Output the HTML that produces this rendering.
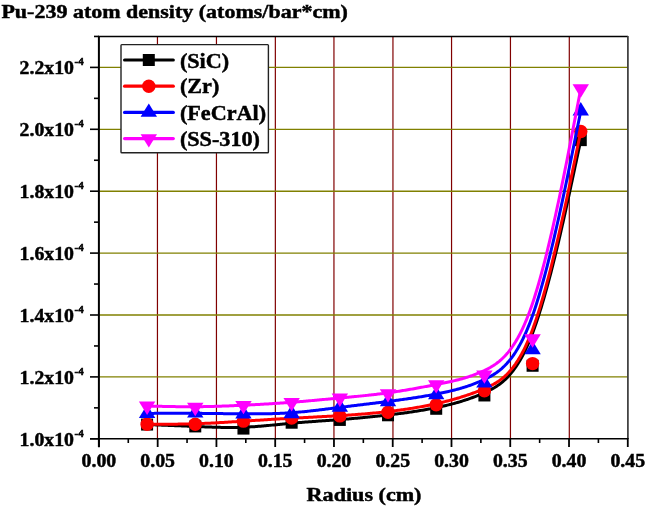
<!DOCTYPE html>
<html><head><meta charset="utf-8"><title>Pu-239 atom density</title>
<style>html,body{margin:0;padding:0;background:#fff;}body{width:646px;height:508px;overflow:hidden;}svg{display:block;}</style>
</head><body>
<svg width="646" height="508" viewBox="0 0 646 508">
<line x1="157.45" y1="36.5" x2="157.45" y2="438" stroke="#800000" stroke-width="1.2"/>
<line x1="216.45" y1="36.5" x2="216.45" y2="438" stroke="#800000" stroke-width="1.2"/>
<line x1="275.35" y1="36.5" x2="275.35" y2="438" stroke="#800000" stroke-width="1.2"/>
<line x1="333.95" y1="36.5" x2="333.95" y2="438" stroke="#800000" stroke-width="1.2"/>
<line x1="392.95" y1="36.5" x2="392.95" y2="438" stroke="#800000" stroke-width="1.2"/>
<line x1="451.55" y1="36.5" x2="451.55" y2="438" stroke="#800000" stroke-width="1.2"/>
<line x1="510.45" y1="36.5" x2="510.45" y2="438" stroke="#800000" stroke-width="1.2"/>
<line x1="569.30" y1="36.5" x2="569.30" y2="438" stroke="#800000" stroke-width="1.2"/>
<line x1="99" y1="376.90" x2="627.5" y2="376.90" stroke="#808000" stroke-width="1.35"/>
<line x1="99" y1="315.00" x2="627.5" y2="315.00" stroke="#808000" stroke-width="1.35"/>
<line x1="99" y1="253.10" x2="627.5" y2="253.10" stroke="#808000" stroke-width="1.35"/>
<line x1="99" y1="191.20" x2="627.5" y2="191.20" stroke="#808000" stroke-width="1.35"/>
<line x1="99" y1="129.30" x2="627.5" y2="129.30" stroke="#808000" stroke-width="1.35"/>
<line x1="99" y1="67.40" x2="627.5" y2="67.40" stroke="#808000" stroke-width="1.35"/>
<line x1="98" y1="36.4" x2="628" y2="36.4" stroke="#000" stroke-width="1.5"/>
<line x1="627.9" y1="36" x2="627.9" y2="439" stroke="#3a3a3a" stroke-width="1.7"/>
<line x1="98.9" y1="36" x2="98.9" y2="447.3" stroke="#000" stroke-width="2"/>
<line x1="90" y1="438.8" x2="628" y2="438.8" stroke="#000" stroke-width="1.6"/>
<line x1="98.90" y1="438" x2="98.90" y2="447" stroke="#000" stroke-width="1.8"/>
<line x1="157.67" y1="438" x2="157.67" y2="447" stroke="#000" stroke-width="1.8"/>
<line x1="216.43" y1="438" x2="216.43" y2="447" stroke="#000" stroke-width="1.8"/>
<line x1="275.20" y1="438" x2="275.20" y2="447" stroke="#000" stroke-width="1.8"/>
<line x1="333.96" y1="438" x2="333.96" y2="447" stroke="#000" stroke-width="1.8"/>
<line x1="392.73" y1="438" x2="392.73" y2="447" stroke="#000" stroke-width="1.8"/>
<line x1="451.49" y1="438" x2="451.49" y2="447" stroke="#000" stroke-width="1.8"/>
<line x1="510.25" y1="438" x2="510.25" y2="447" stroke="#000" stroke-width="1.8"/>
<line x1="569.02" y1="438" x2="569.02" y2="447" stroke="#000" stroke-width="1.8"/>
<line x1="627.78" y1="438" x2="627.78" y2="447" stroke="#000" stroke-width="1.8"/>
<line x1="128.28" y1="438" x2="128.28" y2="443" stroke="#000" stroke-width="1.6"/>
<line x1="187.05" y1="438" x2="187.05" y2="443" stroke="#000" stroke-width="1.6"/>
<line x1="245.81" y1="438" x2="245.81" y2="443" stroke="#000" stroke-width="1.6"/>
<line x1="304.58" y1="438" x2="304.58" y2="443" stroke="#000" stroke-width="1.6"/>
<line x1="363.34" y1="438" x2="363.34" y2="443" stroke="#000" stroke-width="1.6"/>
<line x1="422.11" y1="438" x2="422.11" y2="443" stroke="#000" stroke-width="1.6"/>
<line x1="480.87" y1="438" x2="480.87" y2="443" stroke="#000" stroke-width="1.6"/>
<line x1="539.64" y1="438" x2="539.64" y2="443" stroke="#000" stroke-width="1.6"/>
<line x1="598.40" y1="438" x2="598.40" y2="443" stroke="#000" stroke-width="1.6"/>
<line x1="90" y1="438.80" x2="99" y2="438.80" stroke="#000" stroke-width="1.6"/>
<line x1="90" y1="376.90" x2="99" y2="376.90" stroke="#000" stroke-width="1.6"/>
<line x1="90" y1="315.00" x2="99" y2="315.00" stroke="#000" stroke-width="1.6"/>
<line x1="90" y1="253.10" x2="99" y2="253.10" stroke="#000" stroke-width="1.6"/>
<line x1="90" y1="191.20" x2="99" y2="191.20" stroke="#000" stroke-width="1.6"/>
<line x1="90" y1="129.30" x2="99" y2="129.30" stroke="#000" stroke-width="1.6"/>
<line x1="90" y1="67.40" x2="99" y2="67.40" stroke="#000" stroke-width="1.6"/>
<line x1="94" y1="407.85" x2="99" y2="407.85" stroke="#000" stroke-width="1.6"/>
<line x1="94" y1="345.95" x2="99" y2="345.95" stroke="#000" stroke-width="1.6"/>
<line x1="94" y1="284.05" x2="99" y2="284.05" stroke="#000" stroke-width="1.6"/>
<line x1="94" y1="222.15" x2="99" y2="222.15" stroke="#000" stroke-width="1.6"/>
<line x1="94" y1="160.25" x2="99" y2="160.25" stroke="#000" stroke-width="1.6"/>
<line x1="94" y1="98.35" x2="99" y2="98.35" stroke="#000" stroke-width="1.6"/>
<line x1="94" y1="36.45" x2="99" y2="36.45" stroke="#000" stroke-width="1.6"/>
<text transform="translate(98.90,467) scale(1.1,1)" text-anchor="middle" font-size="18" font-family="Liberation Serif, Times New Roman, serif" font-weight="bold" stroke="#000" stroke-width="0.45">0.00</text>
<text transform="translate(157.67,467) scale(1.1,1)" text-anchor="middle" font-size="18" font-family="Liberation Serif, Times New Roman, serif" font-weight="bold" stroke="#000" stroke-width="0.45">0.05</text>
<text transform="translate(216.43,467) scale(1.1,1)" text-anchor="middle" font-size="18" font-family="Liberation Serif, Times New Roman, serif" font-weight="bold" stroke="#000" stroke-width="0.45">0.10</text>
<text transform="translate(275.20,467) scale(1.1,1)" text-anchor="middle" font-size="18" font-family="Liberation Serif, Times New Roman, serif" font-weight="bold" stroke="#000" stroke-width="0.45">0.15</text>
<text transform="translate(333.96,467) scale(1.1,1)" text-anchor="middle" font-size="18" font-family="Liberation Serif, Times New Roman, serif" font-weight="bold" stroke="#000" stroke-width="0.45">0.20</text>
<text transform="translate(392.73,467) scale(1.1,1)" text-anchor="middle" font-size="18" font-family="Liberation Serif, Times New Roman, serif" font-weight="bold" stroke="#000" stroke-width="0.45">0.25</text>
<text transform="translate(451.49,467) scale(1.1,1)" text-anchor="middle" font-size="18" font-family="Liberation Serif, Times New Roman, serif" font-weight="bold" stroke="#000" stroke-width="0.45">0.30</text>
<text transform="translate(510.25,467) scale(1.1,1)" text-anchor="middle" font-size="18" font-family="Liberation Serif, Times New Roman, serif" font-weight="bold" stroke="#000" stroke-width="0.45">0.35</text>
<text transform="translate(569.02,467) scale(1.1,1)" text-anchor="middle" font-size="18" font-family="Liberation Serif, Times New Roman, serif" font-weight="bold" stroke="#000" stroke-width="0.45">0.40</text>
<text transform="translate(627.78,467) scale(1.1,1)" text-anchor="middle" font-size="18" font-family="Liberation Serif, Times New Roman, serif" font-weight="bold" stroke="#000" stroke-width="0.45">0.45</text>
<text transform="translate(74,445.80) scale(1.1,1)" text-anchor="end" font-size="18" font-family="Liberation Serif, Times New Roman, serif" font-weight="bold" stroke="#000" stroke-width="0.45">1.0x10</text>
<text transform="translate(74.5,436.80) scale(1.1,1)" font-size="10" font-family="Liberation Serif, Times New Roman, serif" font-weight="bold" stroke="#000" stroke-width="0.45">-4</text>
<text transform="translate(74,383.90) scale(1.1,1)" text-anchor="end" font-size="18" font-family="Liberation Serif, Times New Roman, serif" font-weight="bold" stroke="#000" stroke-width="0.45">1.2x10</text>
<text transform="translate(74.5,374.90) scale(1.1,1)" font-size="10" font-family="Liberation Serif, Times New Roman, serif" font-weight="bold" stroke="#000" stroke-width="0.45">-4</text>
<text transform="translate(74,322.00) scale(1.1,1)" text-anchor="end" font-size="18" font-family="Liberation Serif, Times New Roman, serif" font-weight="bold" stroke="#000" stroke-width="0.45">1.4x10</text>
<text transform="translate(74.5,313.00) scale(1.1,1)" font-size="10" font-family="Liberation Serif, Times New Roman, serif" font-weight="bold" stroke="#000" stroke-width="0.45">-4</text>
<text transform="translate(74,260.10) scale(1.1,1)" text-anchor="end" font-size="18" font-family="Liberation Serif, Times New Roman, serif" font-weight="bold" stroke="#000" stroke-width="0.45">1.6x10</text>
<text transform="translate(74.5,251.10) scale(1.1,1)" font-size="10" font-family="Liberation Serif, Times New Roman, serif" font-weight="bold" stroke="#000" stroke-width="0.45">-4</text>
<text transform="translate(74,198.20) scale(1.1,1)" text-anchor="end" font-size="18" font-family="Liberation Serif, Times New Roman, serif" font-weight="bold" stroke="#000" stroke-width="0.45">1.8x10</text>
<text transform="translate(74.5,189.20) scale(1.1,1)" font-size="10" font-family="Liberation Serif, Times New Roman, serif" font-weight="bold" stroke="#000" stroke-width="0.45">-4</text>
<text transform="translate(74,136.30) scale(1.1,1)" text-anchor="end" font-size="18" font-family="Liberation Serif, Times New Roman, serif" font-weight="bold" stroke="#000" stroke-width="0.45">2.0x10</text>
<text transform="translate(74.5,127.30) scale(1.1,1)" font-size="10" font-family="Liberation Serif, Times New Roman, serif" font-weight="bold" stroke="#000" stroke-width="0.45">-4</text>
<text transform="translate(74,74.40) scale(1.1,1)" text-anchor="end" font-size="18" font-family="Liberation Serif, Times New Roman, serif" font-weight="bold" stroke="#000" stroke-width="0.45">2.2x10</text>
<text transform="translate(74.5,65.40) scale(1.1,1)" font-size="10" font-family="Liberation Serif, Times New Roman, serif" font-weight="bold" stroke="#000" stroke-width="0.45">-4</text>
<path d="M147.09,424.56 L147.09,424.56 L147.09,424.56 L147.09,424.56 L147.10,424.56 L147.10,424.56 L147.12,424.56 L147.13,424.56 L147.16,424.57 L147.19,424.57 L147.22,424.57 L147.27,424.57 L147.32,424.57 L147.38,424.57 L147.46,424.58 L147.54,424.58 L147.64,424.58 L147.75,424.59 L147.88,424.59 L148.02,424.60 L148.17,424.60 L148.34,424.61 L148.53,424.62 L148.73,424.63 L148.96,424.64 L149.20,424.64 L149.47,424.65 L149.75,424.67 L150.06,424.68 L150.39,424.69 L150.74,424.70 L151.12,424.72 L151.52,424.73 L151.95,424.75 L152.41,424.77 L152.89,424.79 L153.40,424.81 L153.95,424.83 L154.52,424.85 L155.12,424.87 L155.75,424.90 L156.42,424.92 L157.11,424.95 L157.83,424.98 L158.59,425.01 L159.37,425.04 L160.17,425.07 L161.01,425.10 L161.86,425.13 L162.75,425.17 L163.65,425.20 L164.58,425.24 L165.53,425.28 L166.50,425.31 L167.49,425.35 L168.50,425.39 L169.53,425.43 L170.58,425.47 L171.65,425.52 L172.73,425.56 L173.82,425.60 L174.94,425.65 L176.06,425.69 L177.20,425.74 L178.35,425.78 L179.51,425.83 L180.68,425.87 L181.86,425.92 L183.05,425.97 L184.25,426.02 L185.46,426.07 L186.67,426.12 L187.89,426.17 L189.11,426.22 L190.34,426.27 L191.57,426.32 L192.80,426.37 L194.04,426.42 L195.27,426.47 L196.51,426.52 L197.75,426.57 L198.98,426.63 L200.22,426.68 L201.45,426.73 L202.69,426.78 L203.92,426.83 L205.16,426.88 L206.39,426.93 L207.63,426.97 L208.87,427.02 L210.10,427.06 L211.34,427.11 L212.57,427.15 L213.81,427.19 L215.04,427.23 L216.28,427.26 L217.51,427.30 L218.75,427.33 L219.99,427.36 L221.22,427.38 L222.46,427.41 L223.69,427.43 L224.93,427.44 L226.16,427.46 L227.40,427.47 L228.64,427.48 L229.87,427.48 L231.11,427.48 L232.34,427.48 L233.58,427.47 L234.81,427.46 L236.05,427.44 L237.28,427.42 L238.52,427.39 L239.76,427.37 L240.99,427.33 L242.23,427.29 L243.46,427.25 L244.70,427.20 L245.93,427.14 L247.17,427.08 L248.40,427.01 L249.64,426.95 L250.88,426.87 L252.11,426.79 L253.35,426.71 L254.58,426.63 L255.82,426.54 L257.05,426.44 L258.29,426.35 L259.52,426.25 L260.76,426.15 L262.00,426.04 L263.23,425.93 L264.47,425.83 L265.70,425.71 L266.94,425.60 L268.17,425.49 L269.41,425.37 L270.64,425.25 L271.88,425.13 L273.12,425.01 L274.35,424.89 L275.59,424.77 L276.82,424.65 L278.06,424.53 L279.29,424.40 L280.53,424.28 L281.76,424.16 L283.00,424.04 L284.24,423.92 L285.47,423.80 L286.71,423.68 L287.94,423.56 L289.18,423.45 L290.41,423.33 L291.65,423.22 L292.88,423.11 L294.12,423.00 L295.36,422.90 L296.59,422.79 L297.83,422.69 L299.06,422.59 L300.30,422.49 L301.53,422.39 L302.77,422.29 L304.00,422.20 L305.24,422.10 L306.48,422.01 L307.71,421.92 L308.95,421.83 L310.18,421.74 L311.42,421.65 L312.65,421.56 L313.89,421.47 L315.13,421.38 L316.36,421.30 L317.60,421.21 L318.83,421.12 L320.07,421.04 L321.30,420.95 L322.54,420.86 L323.77,420.78 L325.01,420.69 L326.25,420.60 L327.48,420.52 L328.72,420.43 L329.95,420.34 L331.19,420.25 L332.42,420.16 L333.66,420.07 L334.89,419.98 L336.13,419.89 L337.37,419.80 L338.60,419.71 L339.84,419.61 L341.07,419.52 L342.31,419.42 L343.54,419.32 L344.78,419.22 L346.01,419.12 L347.25,419.02 L348.49,418.91 L349.72,418.81 L350.96,418.70 L352.19,418.60 L353.43,418.49 L354.66,418.38 L355.90,418.27 L357.13,418.16 L358.37,418.05 L359.61,417.93 L360.84,417.82 L362.08,417.70 L363.31,417.58 L364.55,417.46 L365.78,417.34 L367.02,417.22 L368.25,417.10 L369.49,416.97 L370.73,416.85 L371.96,416.72 L373.20,416.59 L374.43,416.47 L375.67,416.34 L376.90,416.20 L378.14,416.07 L379.37,415.94 L380.61,415.80 L381.85,415.67 L383.08,415.53 L384.32,415.39 L385.55,415.25 L386.79,415.11 L388.02,414.97 L389.26,414.83 L390.49,414.68 L391.73,414.53 L392.97,414.39 L394.20,414.24 L395.44,414.09 L396.67,413.93 L397.91,413.78 L399.14,413.62 L400.38,413.47 L401.62,413.30 L402.85,413.14 L404.09,412.98 L405.32,412.81 L406.56,412.64 L407.79,412.47 L409.03,412.30 L410.26,412.12 L411.50,411.94 L412.74,411.76 L413.97,411.57 L415.21,411.38 L416.44,411.19 L417.68,411.00 L418.91,410.80 L420.15,410.60 L421.38,410.39 L422.62,410.18 L423.86,409.97 L425.09,409.76 L426.33,409.54 L427.56,409.32 L428.80,409.09 L430.03,408.86 L431.27,408.62 L432.50,408.39 L433.74,408.14 L434.98,407.90 L436.21,407.64 L437.45,407.39 L438.68,407.13 L439.92,406.86 L441.15,406.59 L442.39,406.31 L443.62,406.03 L444.86,405.75 L446.10,405.46 L447.33,405.16 L448.57,404.85 L449.80,404.54 L451.04,404.23 L452.27,403.90 L453.51,403.58 L454.74,403.24 L455.98,402.90 L457.22,402.55 L458.45,402.19 L459.69,401.83 L460.92,401.45 L462.16,401.07 L463.39,400.69 L464.63,400.29 L465.86,399.89 L467.10,399.47 L468.34,399.05 L469.57,398.62 L470.81,398.19 L472.04,397.74 L473.28,397.28 L474.51,396.82 L475.75,396.34 L476.98,395.86 L478.22,395.36 L479.46,394.86 L480.69,394.34 L481.93,393.82 L483.16,393.28 L484.40,392.74 L485.63,392.18 L486.87,391.61 L488.11,391.02 L489.34,390.41 L490.58,389.78 L491.81,389.12 L493.05,388.44 L494.28,387.72 L495.52,386.97 L496.75,386.18 L497.99,385.35 L499.23,384.47 L500.46,383.55 L501.70,382.57 L502.93,381.55 L504.17,380.47 L505.40,379.32 L506.64,378.12 L507.87,376.85 L509.11,375.51 L510.35,374.10 L511.58,372.62 L512.82,371.06 L514.05,369.42 L515.29,367.70 L516.52,365.89 L517.76,363.99 L518.99,361.99 L520.23,359.91 L521.47,357.72 L522.70,355.43 L523.94,353.04 L525.17,350.54 L526.41,347.93 L527.64,345.20 L528.88,342.36 L530.11,339.40 L531.35,336.32 L532.59,333.11 L533.82,329.77 L535.06,326.31 L536.29,322.74 L537.52,319.06 L538.75,315.28 L539.97,311.40 L541.19,307.44 L542.40,303.40 L543.61,299.29 L544.81,295.11 L546.00,290.88 L547.18,286.60 L548.35,282.27 L549.51,277.90 L550.66,273.51 L551.80,269.09 L552.93,264.66 L554.04,260.22 L555.13,255.78 L556.21,251.35 L557.28,246.93 L558.33,242.53 L559.36,238.16 L560.37,233.82 L561.36,229.52 L562.33,225.27 L563.28,221.08 L564.21,216.95 L565.12,212.90 L566.00,208.91 L566.86,205.02 L567.69,201.21 L568.49,197.51 L569.27,193.91 L570.03,190.42 L570.75,187.05 L571.44,183.81 L572.11,180.70 L572.74,177.74 L573.34,174.92 L573.92,172.24 L574.46,169.71 L574.97,167.31 L575.45,165.05 L575.91,162.91 L576.34,160.91 L576.74,159.02 L577.12,157.25 L577.47,155.59 L577.80,154.05 L578.11,152.61 L578.39,151.27 L578.66,150.04 L578.90,148.90 L579.13,147.85 L579.33,146.88 L579.52,146.00 L579.69,145.20 L579.84,144.48 L579.98,143.83 L580.11,143.25 L580.22,142.73 L580.32,142.27 L580.40,141.87 L580.48,141.53 L580.54,141.23 L580.59,140.98 L580.64,140.77 L580.67,140.59 L580.70,140.46 L580.73,140.35 L580.74,140.27 L580.76,140.21 L580.76,140.17 L580.77,140.15 L580.77,140.14 L580.77,140.13 L580.77,140.13" fill="none" stroke="#000" stroke-width="3" stroke-linejoin="round"/>
<rect x="141.09" y="418.56" width="12" height="12" fill="#000"/>
<rect x="189.27" y="420.42" width="12" height="12" fill="#000"/>
<rect x="237.46" y="422.59" width="12" height="12" fill="#000"/>
<rect x="285.65" y="416.71" width="12" height="12" fill="#000"/>
<rect x="333.84" y="413.92" width="12" height="12" fill="#000"/>
<rect x="382.02" y="409.28" width="12" height="12" fill="#000"/>
<rect x="430.21" y="402.78" width="12" height="12" fill="#000"/>
<rect x="478.40" y="389.47" width="12" height="12" fill="#000"/>
<rect x="526.59" y="359.76" width="12" height="12" fill="#000"/>
<rect x="574.77" y="134.13" width="12" height="12" fill="#000"/>
<path d="M147.09,424.25 L147.09,424.25 L147.09,424.25 L147.09,424.25 L147.10,424.25 L147.10,424.25 L147.12,424.25 L147.13,424.25 L147.16,424.25 L147.19,424.25 L147.22,424.25 L147.27,424.25 L147.32,424.25 L147.38,424.25 L147.46,424.25 L147.54,424.25 L147.64,424.25 L147.75,424.25 L147.88,424.25 L148.02,424.25 L148.17,424.25 L148.34,424.25 L148.53,424.25 L148.73,424.25 L148.96,424.25 L149.20,424.25 L149.47,424.25 L149.75,424.25 L150.06,424.25 L150.39,424.25 L150.74,424.25 L151.12,424.25 L151.52,424.25 L151.95,424.25 L152.41,424.25 L152.89,424.25 L153.40,424.25 L153.95,424.25 L154.52,424.25 L155.12,424.25 L155.75,424.25 L156.42,424.25 L157.11,424.25 L157.83,424.25 L158.59,424.25 L159.37,424.25 L160.17,424.25 L161.01,424.25 L161.86,424.25 L162.75,424.24 L163.65,424.24 L164.58,424.24 L165.53,424.23 L166.50,424.23 L167.49,424.22 L168.50,424.22 L169.53,424.21 L170.58,424.20 L171.65,424.19 L172.73,424.18 L173.82,424.17 L174.94,424.16 L176.06,424.15 L177.20,424.13 L178.35,424.12 L179.51,424.10 L180.68,424.08 L181.86,424.06 L183.05,424.04 L184.25,424.02 L185.46,423.99 L186.67,423.97 L187.89,423.94 L189.11,423.91 L190.34,423.88 L191.57,423.85 L192.80,423.81 L194.04,423.78 L195.27,423.74 L196.51,423.70 L197.75,423.65 L198.98,423.61 L200.22,423.56 L201.45,423.51 L202.69,423.46 L203.92,423.41 L205.16,423.36 L206.39,423.30 L207.63,423.25 L208.87,423.19 L210.10,423.13 L211.34,423.07 L212.57,423.01 L213.81,422.94 L215.04,422.88 L216.28,422.81 L217.51,422.74 L218.75,422.68 L219.99,422.61 L221.22,422.54 L222.46,422.46 L223.69,422.39 L224.93,422.32 L226.16,422.25 L227.40,422.17 L228.64,422.10 L229.87,422.02 L231.11,421.94 L232.34,421.87 L233.58,421.79 L234.81,421.71 L236.05,421.63 L237.28,421.55 L238.52,421.48 L239.76,421.40 L240.99,421.32 L242.23,421.24 L243.46,421.16 L244.70,421.08 L245.93,421.00 L247.17,420.92 L248.40,420.84 L249.64,420.76 L250.88,420.68 L252.11,420.60 L253.35,420.52 L254.58,420.45 L255.82,420.37 L257.05,420.29 L258.29,420.21 L259.52,420.13 L260.76,420.05 L262.00,419.98 L263.23,419.90 L264.47,419.82 L265.70,419.75 L266.94,419.67 L268.17,419.59 L269.41,419.52 L270.64,419.44 L271.88,419.36 L273.12,419.29 L274.35,419.22 L275.59,419.14 L276.82,419.07 L278.06,418.99 L279.29,418.92 L280.53,418.85 L281.76,418.78 L283.00,418.70 L284.24,418.63 L285.47,418.56 L286.71,418.49 L287.94,418.42 L289.18,418.35 L290.41,418.29 L291.65,418.22 L292.88,418.15 L294.12,418.08 L295.36,418.02 L296.59,417.95 L297.83,417.89 L299.06,417.82 L300.30,417.76 L301.53,417.69 L302.77,417.63 L304.00,417.57 L305.24,417.50 L306.48,417.44 L307.71,417.38 L308.95,417.31 L310.18,417.25 L311.42,417.19 L312.65,417.13 L313.89,417.06 L315.13,417.00 L316.36,416.94 L317.60,416.87 L318.83,416.81 L320.07,416.74 L321.30,416.68 L322.54,416.61 L323.77,416.55 L325.01,416.48 L326.25,416.42 L327.48,416.35 L328.72,416.28 L329.95,416.21 L331.19,416.14 L332.42,416.07 L333.66,416.00 L334.89,415.93 L336.13,415.86 L337.37,415.79 L338.60,415.71 L339.84,415.64 L341.07,415.56 L342.31,415.49 L343.54,415.41 L344.78,415.33 L346.01,415.25 L347.25,415.17 L348.49,415.08 L349.72,415.00 L350.96,414.91 L352.19,414.83 L353.43,414.74 L354.66,414.65 L355.90,414.56 L357.13,414.47 L358.37,414.37 L359.61,414.28 L360.84,414.18 L362.08,414.08 L363.31,413.98 L364.55,413.88 L365.78,413.78 L367.02,413.67 L368.25,413.56 L369.49,413.45 L370.73,413.34 L371.96,413.23 L373.20,413.11 L374.43,413.00 L375.67,412.88 L376.90,412.76 L378.14,412.63 L379.37,412.51 L380.61,412.38 L381.85,412.25 L383.08,412.12 L384.32,411.98 L385.55,411.84 L386.79,411.71 L388.02,411.56 L389.26,411.42 L390.49,411.27 L391.73,411.12 L392.97,410.97 L394.20,410.82 L395.44,410.66 L396.67,410.50 L397.91,410.34 L399.14,410.17 L400.38,410.01 L401.62,409.83 L402.85,409.66 L404.09,409.48 L405.32,409.30 L406.56,409.12 L407.79,408.93 L409.03,408.74 L410.26,408.55 L411.50,408.36 L412.74,408.16 L413.97,407.95 L415.21,407.75 L416.44,407.54 L417.68,407.32 L418.91,407.11 L420.15,406.89 L421.38,406.66 L422.62,406.44 L423.86,406.20 L425.09,405.97 L426.33,405.73 L427.56,405.49 L428.80,405.24 L430.03,404.99 L431.27,404.73 L432.50,404.47 L433.74,404.21 L434.98,403.94 L436.21,403.67 L437.45,403.40 L438.68,403.12 L439.92,402.83 L441.15,402.54 L442.39,402.25 L443.62,401.95 L444.86,401.64 L446.10,401.33 L447.33,401.02 L448.57,400.70 L449.80,400.38 L451.04,400.05 L452.27,399.71 L453.51,399.37 L454.74,399.02 L455.98,398.67 L457.22,398.31 L458.45,397.94 L459.69,397.57 L460.92,397.19 L462.16,396.80 L463.39,396.41 L464.63,396.01 L465.86,395.61 L467.10,395.19 L468.34,394.77 L469.57,394.35 L470.81,393.91 L472.04,393.47 L473.28,393.02 L474.51,392.56 L475.75,392.10 L476.98,391.62 L478.22,391.14 L479.46,390.65 L480.69,390.15 L481.93,389.65 L483.16,389.13 L484.40,388.61 L485.63,388.08 L486.87,387.53 L488.11,386.97 L489.34,386.39 L490.58,385.79 L491.81,385.17 L493.05,384.52 L494.28,383.83 L495.52,383.11 L496.75,382.36 L497.99,381.56 L499.23,380.72 L500.46,379.83 L501.70,378.89 L502.93,377.89 L504.17,376.84 L505.40,375.73 L506.64,374.55 L507.87,373.31 L509.11,372.00 L510.35,370.61 L511.58,369.15 L512.82,367.61 L514.05,365.98 L515.29,364.27 L516.52,362.47 L517.76,360.58 L518.99,358.59 L520.23,356.50 L521.47,354.31 L522.70,352.01 L523.94,349.60 L525.17,347.09 L526.41,344.45 L527.64,341.70 L528.88,338.83 L530.11,335.83 L531.35,332.70 L532.59,329.44 L533.82,326.05 L535.06,322.53 L536.29,318.89 L537.52,315.14 L538.75,311.29 L539.97,307.33 L541.19,303.29 L542.40,299.16 L543.61,294.96 L544.81,290.68 L546.00,286.35 L547.18,281.96 L548.35,277.53 L549.51,273.06 L550.66,268.56 L551.80,264.03 L552.93,259.48 L554.04,254.93 L555.13,250.37 L556.21,245.82 L557.28,241.28 L558.33,236.77 L559.36,232.27 L560.37,227.82 L561.36,223.40 L562.33,219.04 L563.28,214.73 L564.21,210.49 L565.12,206.32 L566.00,202.22 L566.86,198.22 L567.69,194.30 L568.49,190.49 L569.27,186.79 L570.03,183.20 L570.75,179.74 L571.44,176.40 L572.11,173.21 L572.74,170.15 L573.34,167.25 L573.92,164.50 L574.46,161.90 L574.97,159.43 L575.45,157.10 L575.91,154.90 L576.34,152.84 L576.74,150.90 L577.12,149.08 L577.47,147.37 L577.80,145.78 L578.11,144.30 L578.39,142.93 L578.66,141.66 L578.90,140.48 L579.13,139.40 L579.33,138.41 L579.52,137.51 L579.69,136.68 L579.84,135.94 L579.98,135.27 L580.11,134.67 L580.22,134.14 L580.32,133.67 L580.40,133.26 L580.48,132.90 L580.54,132.59 L580.59,132.33 L580.64,132.12 L580.67,131.94 L580.70,131.80 L580.73,131.69 L580.74,131.61 L580.76,131.55 L580.76,131.51 L580.77,131.48 L580.77,131.47 L580.77,131.47 L580.77,131.47" fill="none" stroke="#f00" stroke-width="3" stroke-linejoin="round"/>
<circle cx="147.09" cy="424.25" r="6.7" fill="#f00"/>
<circle cx="195.27" cy="424.25" r="6.7" fill="#f00"/>
<circle cx="243.46" cy="421.16" r="6.7" fill="#f00"/>
<circle cx="291.65" cy="418.06" r="6.7" fill="#f00"/>
<circle cx="339.84" cy="415.90" r="6.7" fill="#f00"/>
<circle cx="388.02" cy="412.18" r="6.7" fill="#f00"/>
<circle cx="436.21" cy="404.75" r="6.7" fill="#f00"/>
<circle cx="484.40" cy="390.83" r="6.7" fill="#f00"/>
<circle cx="532.59" cy="363.59" r="6.7" fill="#f00"/>
<circle cx="580.77" cy="131.47" r="6.7" fill="#f00"/>
<path d="M147.09,413.42 L147.09,413.42 L147.09,413.42 L147.09,413.42 L147.10,413.42 L147.10,413.42 L147.12,413.42 L147.13,413.42 L147.16,413.42 L147.19,413.42 L147.22,413.42 L147.27,413.42 L147.32,413.42 L147.38,413.42 L147.46,413.42 L147.54,413.42 L147.64,413.42 L147.75,413.42 L147.88,413.42 L148.02,413.42 L148.17,413.41 L148.34,413.41 L148.53,413.41 L148.73,413.41 L148.96,413.41 L149.20,413.41 L149.47,413.41 L149.75,413.40 L150.06,413.40 L150.39,413.40 L150.74,413.40 L151.12,413.40 L151.52,413.39 L151.95,413.39 L152.41,413.39 L152.89,413.38 L153.40,413.38 L153.95,413.38 L154.52,413.37 L155.12,413.37 L155.75,413.37 L156.42,413.36 L157.11,413.36 L157.83,413.35 L158.59,413.35 L159.37,413.34 L160.17,413.34 L161.01,413.33 L161.86,413.33 L162.75,413.32 L163.65,413.32 L164.58,413.31 L165.53,413.31 L166.50,413.31 L167.49,413.30 L168.50,413.30 L169.53,413.29 L170.58,413.29 L171.65,413.29 L172.73,413.28 L173.82,413.28 L174.94,413.28 L176.06,413.28 L177.20,413.28 L178.35,413.27 L179.51,413.27 L180.68,413.27 L181.86,413.27 L183.05,413.27 L184.25,413.28 L185.46,413.28 L186.67,413.28 L187.89,413.28 L189.11,413.29 L190.34,413.29 L191.57,413.30 L192.80,413.30 L194.04,413.31 L195.27,413.32 L196.51,413.33 L197.75,413.34 L198.98,413.35 L200.22,413.36 L201.45,413.37 L202.69,413.38 L203.92,413.39 L205.16,413.40 L206.39,413.42 L207.63,413.43 L208.87,413.45 L210.10,413.46 L211.34,413.47 L212.57,413.49 L213.81,413.50 L215.04,413.52 L216.28,413.54 L217.51,413.55 L218.75,413.57 L219.99,413.58 L221.22,413.60 L222.46,413.62 L223.69,413.63 L224.93,413.65 L226.16,413.66 L227.40,413.68 L228.64,413.69 L229.87,413.71 L231.11,413.72 L232.34,413.73 L233.58,413.75 L234.81,413.76 L236.05,413.77 L237.28,413.78 L238.52,413.80 L239.76,413.81 L240.99,413.82 L242.23,413.83 L243.46,413.83 L244.70,413.84 L245.93,413.85 L247.17,413.85 L248.40,413.86 L249.64,413.86 L250.88,413.86 L252.11,413.86 L253.35,413.86 L254.58,413.86 L255.82,413.86 L257.05,413.85 L258.29,413.85 L259.52,413.84 L260.76,413.83 L262.00,413.81 L263.23,413.80 L264.47,413.78 L265.70,413.76 L266.94,413.74 L268.17,413.72 L269.41,413.69 L270.64,413.66 L271.88,413.63 L273.12,413.60 L274.35,413.56 L275.59,413.52 L276.82,413.48 L278.06,413.43 L279.29,413.38 L280.53,413.33 L281.76,413.27 L283.00,413.21 L284.24,413.15 L285.47,413.09 L286.71,413.02 L287.94,412.94 L289.18,412.87 L290.41,412.78 L291.65,412.70 L292.88,412.61 L294.12,412.52 L295.36,412.42 L296.59,412.32 L297.83,412.21 L299.06,412.11 L300.30,411.99 L301.53,411.88 L302.77,411.76 L304.00,411.64 L305.24,411.52 L306.48,411.39 L307.71,411.26 L308.95,411.13 L310.18,411.00 L311.42,410.86 L312.65,410.73 L313.89,410.58 L315.13,410.44 L316.36,410.30 L317.60,410.15 L318.83,410.01 L320.07,409.86 L321.30,409.71 L322.54,409.56 L323.77,409.41 L325.01,409.25 L326.25,409.10 L327.48,408.94 L328.72,408.79 L329.95,408.63 L331.19,408.48 L332.42,408.32 L333.66,408.16 L334.89,408.01 L336.13,407.85 L337.37,407.70 L338.60,407.54 L339.84,407.39 L341.07,407.23 L342.31,407.08 L343.54,406.92 L344.78,406.77 L346.01,406.62 L347.25,406.47 L348.49,406.32 L349.72,406.16 L350.96,406.01 L352.19,405.86 L353.43,405.71 L354.66,405.56 L355.90,405.41 L357.13,405.26 L358.37,405.11 L359.61,404.96 L360.84,404.81 L362.08,404.66 L363.31,404.51 L364.55,404.36 L365.78,404.21 L367.02,404.06 L368.25,403.91 L369.49,403.76 L370.73,403.61 L371.96,403.46 L373.20,403.31 L374.43,403.16 L375.67,403.01 L376.90,402.85 L378.14,402.70 L379.37,402.55 L380.61,402.39 L381.85,402.24 L383.08,402.08 L384.32,401.93 L385.55,401.77 L386.79,401.61 L388.02,401.45 L389.26,401.29 L390.49,401.13 L391.73,400.97 L392.97,400.81 L394.20,400.65 L395.44,400.48 L396.67,400.32 L397.91,400.15 L399.14,399.98 L400.38,399.82 L401.62,399.64 L402.85,399.47 L404.09,399.30 L405.32,399.12 L406.56,398.95 L407.79,398.77 L409.03,398.59 L410.26,398.40 L411.50,398.22 L412.74,398.03 L413.97,397.84 L415.21,397.65 L416.44,397.46 L417.68,397.27 L418.91,397.07 L420.15,396.87 L421.38,396.67 L422.62,396.46 L423.86,396.25 L425.09,396.04 L426.33,395.83 L427.56,395.62 L428.80,395.40 L430.03,395.18 L431.27,394.95 L432.50,394.73 L433.74,394.50 L434.98,394.26 L436.21,394.03 L437.45,393.79 L438.68,393.54 L439.92,393.30 L441.15,393.04 L442.39,392.79 L443.62,392.53 L444.86,392.26 L446.10,391.99 L447.33,391.72 L448.57,391.44 L449.80,391.15 L451.04,390.85 L452.27,390.55 L453.51,390.24 L454.74,389.93 L455.98,389.61 L457.22,389.28 L458.45,388.94 L459.69,388.59 L460.92,388.24 L462.16,387.87 L463.39,387.50 L464.63,387.12 L465.86,386.73 L467.10,386.32 L468.34,385.91 L469.57,385.49 L470.81,385.05 L472.04,384.61 L473.28,384.15 L474.51,383.68 L475.75,383.20 L476.98,382.71 L478.22,382.20 L479.46,381.69 L480.69,381.15 L481.93,380.61 L483.16,380.05 L484.40,379.48 L485.63,378.89 L486.87,378.29 L488.11,377.66 L489.34,377.01 L490.58,376.34 L491.81,375.64 L493.05,374.90 L494.28,374.12 L495.52,373.31 L496.75,372.46 L497.99,371.56 L499.23,370.61 L500.46,369.61 L501.70,368.56 L502.93,367.45 L504.17,366.27 L505.40,365.04 L506.64,363.74 L507.87,362.36 L509.11,360.92 L510.35,359.40 L511.58,357.80 L512.82,356.11 L514.05,354.34 L515.29,352.49 L516.52,350.54 L517.76,348.50 L518.99,346.35 L520.23,344.11 L521.47,341.77 L522.70,339.31 L523.94,336.75 L525.17,334.07 L526.41,331.28 L527.64,328.37 L528.88,325.33 L530.11,322.17 L531.35,318.89 L532.59,315.46 L533.82,311.91 L535.06,308.23 L536.29,304.43 L537.52,300.51 L538.75,296.49 L539.97,292.38 L541.19,288.17 L542.40,283.88 L543.61,279.52 L544.81,275.09 L546.00,270.60 L547.18,266.05 L548.35,261.46 L549.51,256.84 L550.66,252.18 L551.80,247.50 L552.93,242.80 L554.04,238.10 L555.13,233.40 L556.21,228.70 L557.28,224.02 L558.33,219.36 L559.36,214.73 L560.37,210.14 L561.36,205.59 L562.33,201.10 L563.28,196.66 L564.21,192.29 L565.12,188.00 L566.00,183.79 L566.86,179.67 L567.69,175.64 L568.49,171.72 L569.27,167.91 L570.03,164.22 L570.75,160.66 L571.44,157.23 L572.11,153.95 L572.74,150.81 L573.34,147.83 L573.92,145.00 L574.46,142.32 L574.97,139.79 L575.45,137.39 L575.91,135.13 L576.34,133.01 L576.74,131.01 L577.12,129.14 L577.47,127.39 L577.80,125.76 L578.11,124.24 L578.39,122.82 L578.66,121.52 L578.90,120.31 L579.13,119.20 L579.33,118.18 L579.52,117.25 L579.69,116.40 L579.84,115.64 L579.98,114.95 L580.11,114.33 L580.22,113.79 L580.32,113.30 L580.40,112.88 L580.48,112.51 L580.54,112.20 L580.59,111.93 L580.64,111.71 L580.67,111.53 L580.70,111.38 L580.73,111.27 L580.74,111.18 L580.76,111.12 L580.76,111.08 L580.77,111.06 L580.77,111.04 L580.77,111.04 L580.77,111.04" fill="none" stroke="#00f" stroke-width="3" stroke-linejoin="round"/>
<polygon points="147.09,404.49 155.29,417.89 138.89,417.89" fill="#00f"/>
<polygon points="195.27,404.18 203.47,417.58 187.07,417.58" fill="#00f"/>
<polygon points="243.46,405.11 251.66,418.51 235.26,418.51" fill="#00f"/>
<polygon points="291.65,404.80 299.85,418.20 283.45,418.20" fill="#00f"/>
<polygon points="339.84,398.30 348.04,411.70 331.64,411.70" fill="#00f"/>
<polygon points="388.02,392.73 396.22,406.13 379.82,406.13" fill="#00f"/>
<polygon points="436.21,385.92 444.41,399.32 428.01,399.32" fill="#00f"/>
<polygon points="484.40,374.16 492.60,387.56 476.20,387.56" fill="#00f"/>
<polygon points="532.59,340.73 540.79,354.13 524.39,354.13" fill="#00f"/>
<polygon points="580.77,102.11 588.97,115.51 572.57,115.51" fill="#00f"/>
<path d="M147.09,405.99 L147.09,405.99 L147.09,405.99 L147.09,405.99 L147.10,405.99 L147.10,405.99 L147.12,405.99 L147.13,405.99 L147.16,405.99 L147.19,406.00 L147.22,406.00 L147.27,406.00 L147.32,406.00 L147.38,406.00 L147.46,406.00 L147.54,406.00 L147.64,406.01 L147.75,406.01 L147.88,406.01 L148.02,406.02 L148.17,406.02 L148.34,406.03 L148.53,406.03 L148.73,406.04 L148.96,406.04 L149.20,406.05 L149.47,406.05 L149.75,406.06 L150.06,406.07 L150.39,406.08 L150.74,406.09 L151.12,406.10 L151.52,406.11 L151.95,406.12 L152.41,406.13 L152.89,406.14 L153.40,406.16 L153.95,406.17 L154.52,406.18 L155.12,406.20 L155.75,406.22 L156.42,406.23 L157.11,406.25 L157.83,406.27 L158.59,406.29 L159.37,406.31 L160.17,406.33 L161.01,406.35 L161.86,406.37 L162.75,406.39 L163.65,406.41 L164.58,406.43 L165.53,406.45 L166.50,406.47 L167.49,406.49 L168.50,406.51 L169.53,406.53 L170.58,406.55 L171.65,406.56 L172.73,406.58 L173.82,406.60 L174.94,406.62 L176.06,406.63 L177.20,406.65 L178.35,406.66 L179.51,406.67 L180.68,406.68 L181.86,406.70 L183.05,406.70 L184.25,406.71 L185.46,406.72 L186.67,406.73 L187.89,406.73 L189.11,406.73 L190.34,406.73 L191.57,406.73 L192.80,406.73 L194.04,406.72 L195.27,406.72 L196.51,406.71 L197.75,406.70 L198.98,406.68 L200.22,406.67 L201.45,406.65 L202.69,406.63 L203.92,406.61 L205.16,406.59 L206.39,406.57 L207.63,406.54 L208.87,406.51 L210.10,406.48 L211.34,406.45 L212.57,406.42 L213.81,406.39 L215.04,406.35 L216.28,406.32 L217.51,406.28 L218.75,406.24 L219.99,406.20 L221.22,406.16 L222.46,406.11 L223.69,406.07 L224.93,406.02 L226.16,405.98 L227.40,405.93 L228.64,405.88 L229.87,405.83 L231.11,405.78 L232.34,405.73 L233.58,405.67 L234.81,405.62 L236.05,405.56 L237.28,405.51 L238.52,405.45 L239.76,405.39 L240.99,405.34 L242.23,405.28 L243.46,405.22 L244.70,405.16 L245.93,405.10 L247.17,405.04 L248.40,404.98 L249.64,404.91 L250.88,404.85 L252.11,404.79 L253.35,404.72 L254.58,404.66 L255.82,404.59 L257.05,404.52 L258.29,404.46 L259.52,404.39 L260.76,404.32 L262.00,404.25 L263.23,404.18 L264.47,404.11 L265.70,404.03 L266.94,403.96 L268.17,403.89 L269.41,403.81 L270.64,403.73 L271.88,403.66 L273.12,403.58 L274.35,403.50 L275.59,403.42 L276.82,403.34 L278.06,403.26 L279.29,403.17 L280.53,403.09 L281.76,403.00 L283.00,402.92 L284.24,402.83 L285.47,402.74 L286.71,402.65 L287.94,402.56 L289.18,402.47 L290.41,402.37 L291.65,402.28 L292.88,402.18 L294.12,402.09 L295.36,401.99 L296.59,401.89 L297.83,401.79 L299.06,401.69 L300.30,401.58 L301.53,401.48 L302.77,401.38 L304.00,401.27 L305.24,401.17 L306.48,401.06 L307.71,400.95 L308.95,400.84 L310.18,400.73 L311.42,400.62 L312.65,400.51 L313.89,400.40 L315.13,400.29 L316.36,400.18 L317.60,400.07 L318.83,399.95 L320.07,399.84 L321.30,399.73 L322.54,399.61 L323.77,399.50 L325.01,399.38 L326.25,399.27 L327.48,399.15 L328.72,399.04 L329.95,398.92 L331.19,398.81 L332.42,398.69 L333.66,398.57 L334.89,398.46 L336.13,398.34 L337.37,398.23 L338.60,398.11 L339.84,398.00 L341.07,397.88 L342.31,397.77 L343.54,397.65 L344.78,397.54 L346.01,397.42 L347.25,397.31 L348.49,397.19 L349.72,397.08 L350.96,396.96 L352.19,396.84 L353.43,396.73 L354.66,396.61 L355.90,396.49 L357.13,396.37 L358.37,396.25 L359.61,396.13 L360.84,396.00 L362.08,395.88 L363.31,395.75 L364.55,395.63 L365.78,395.50 L367.02,395.37 L368.25,395.24 L369.49,395.10 L370.73,394.97 L371.96,394.83 L373.20,394.69 L374.43,394.55 L375.67,394.41 L376.90,394.26 L378.14,394.11 L379.37,393.96 L380.61,393.81 L381.85,393.66 L383.08,393.50 L384.32,393.34 L385.55,393.17 L386.79,393.01 L388.02,392.84 L389.26,392.67 L390.49,392.49 L391.73,392.31 L392.97,392.13 L394.20,391.95 L395.44,391.76 L396.67,391.57 L397.91,391.38 L399.14,391.19 L400.38,390.99 L401.62,390.79 L402.85,390.59 L404.09,390.39 L405.32,390.18 L406.56,389.97 L407.79,389.76 L409.03,389.55 L410.26,389.34 L411.50,389.12 L412.74,388.90 L413.97,388.68 L415.21,388.46 L416.44,388.24 L417.68,388.02 L418.91,387.79 L420.15,387.56 L421.38,387.33 L422.62,387.10 L423.86,386.87 L425.09,386.64 L426.33,386.41 L427.56,386.17 L428.80,385.94 L430.03,385.70 L431.27,385.46 L432.50,385.23 L433.74,384.99 L434.98,384.75 L436.21,384.51 L437.45,384.27 L438.68,384.03 L439.92,383.78 L441.15,383.54 L442.39,383.29 L443.62,383.04 L444.86,382.79 L446.10,382.54 L447.33,382.28 L448.57,382.01 L449.80,381.74 L451.04,381.47 L452.27,381.19 L453.51,380.90 L454.74,380.61 L455.98,380.31 L457.22,380.00 L458.45,379.69 L459.69,379.36 L460.92,379.03 L462.16,378.69 L463.39,378.34 L464.63,377.98 L465.86,377.61 L467.10,377.23 L468.34,376.83 L469.57,376.43 L470.81,376.01 L472.04,375.58 L473.28,375.14 L474.51,374.68 L475.75,374.22 L476.98,373.73 L478.22,373.23 L479.46,372.72 L480.69,372.19 L481.93,371.64 L483.16,371.08 L484.40,370.50 L485.63,369.91 L486.87,369.29 L488.11,368.65 L489.34,367.98 L490.58,367.29 L491.81,366.55 L493.05,365.79 L494.28,364.98 L495.52,364.13 L496.75,363.24 L497.99,362.30 L499.23,361.30 L500.46,360.25 L501.70,359.14 L502.93,357.97 L504.17,356.73 L505.40,355.43 L506.64,354.06 L507.87,352.61 L509.11,351.08 L510.35,349.47 L511.58,347.78 L512.82,346.00 L514.05,344.14 L515.29,342.18 L516.52,340.12 L517.76,337.96 L518.99,335.70 L520.23,333.34 L521.47,330.86 L522.70,328.28 L523.94,325.57 L525.17,322.75 L526.41,319.81 L527.64,316.74 L528.88,313.55 L530.11,310.22 L531.35,306.76 L532.59,303.16 L533.82,299.42 L535.06,295.55 L536.29,291.56 L537.52,287.45 L538.75,283.22 L539.97,278.90 L541.19,274.48 L542.40,269.98 L543.61,265.40 L544.81,260.75 L546.00,256.03 L547.18,251.26 L548.35,246.45 L549.51,241.59 L550.66,236.71 L551.80,231.80 L552.93,226.87 L554.04,221.94 L555.13,217.01 L556.21,212.08 L557.28,207.18 L558.33,202.29 L559.36,197.44 L560.37,192.62 L561.36,187.85 L562.33,183.14 L563.28,178.49 L564.21,173.91 L565.12,169.41 L566.00,165.00 L566.86,160.68 L567.69,156.46 L568.49,152.35 L569.27,148.36 L570.03,144.49 L570.75,140.76 L571.44,137.17 L572.11,133.72 L572.74,130.43 L573.34,127.31 L573.92,124.35 L574.46,121.54 L574.97,118.88 L575.45,116.37 L575.91,114.01 L576.34,111.78 L576.74,109.69 L577.12,107.73 L577.47,105.89 L577.80,104.18 L578.11,102.59 L578.39,101.10 L578.66,99.73 L578.90,98.47 L579.13,97.30 L579.33,96.24 L579.52,95.26 L579.69,94.38 L579.84,93.57 L579.98,92.85 L580.11,92.21 L580.22,91.63 L580.32,91.13 L580.40,90.68 L580.48,90.30 L580.54,89.97 L580.59,89.69 L580.64,89.46 L580.67,89.27 L580.70,89.12 L580.73,89.00 L580.74,88.91 L580.76,88.84 L580.76,88.80 L580.77,88.77 L580.77,88.76 L580.77,88.76 L580.77,88.76" fill="none" stroke="#f0f" stroke-width="3" stroke-linejoin="round"/>
<polygon points="138.89,401.53 155.29,401.53 147.09,414.93" fill="#f0f"/>
<polygon points="187.07,402.76 203.47,402.76 195.27,416.16" fill="#f0f"/>
<polygon points="235.26,400.91 251.66,400.91 243.46,414.31" fill="#f0f"/>
<polygon points="283.45,398.12 299.85,398.12 291.65,411.52" fill="#f0f"/>
<polygon points="331.64,393.48 348.04,393.48 339.84,406.88" fill="#f0f"/>
<polygon points="379.82,389.15 396.22,389.15 388.02,402.55" fill="#f0f"/>
<polygon points="428.01,380.17 444.41,380.17 436.21,393.57" fill="#f0f"/>
<polygon points="476.20,370.42 492.60,370.42 484.40,383.82" fill="#f0f"/>
<polygon points="524.39,334.36 540.79,334.36 532.59,347.76" fill="#f0f"/>
<polygon points="572.57,84.29 588.97,84.29 580.77,97.69" fill="#f0f"/>
<rect x="121" y="44.6" width="147.4" height="108.2" fill="#fff" stroke="#222" stroke-width="1.4" rx="0.8"/>
<line x1="124.6" y1="60.00" x2="173.3" y2="60.00" stroke="#000" stroke-width="3.2" stroke-linecap="round"/>
<rect x="142.80" y="54.00" width="12" height="12" fill="#000"/>
<text transform="translate(179.9,67.90) scale(1.098,1)" font-size="20.2" font-family="Liberation Serif, Times New Roman, serif" font-weight="bold" stroke="#000" stroke-width="0.45">(SiC)</text>
<line x1="124.6" y1="86.20" x2="173.3" y2="86.20" stroke="#f00" stroke-width="3.2" stroke-linecap="round"/>
<circle cx="148.80" cy="86.20" r="6.7" fill="#f00"/>
<text transform="translate(179.9,93.30) scale(1.098,1)" font-size="20.2" font-family="Liberation Serif, Times New Roman, serif" font-weight="bold" stroke="#000" stroke-width="0.45">(Zr)</text>
<line x1="124.6" y1="112.40" x2="173.3" y2="112.40" stroke="#00f" stroke-width="3.2" stroke-linecap="round"/>
<polygon points="148.80,103.47 157.00,116.87 140.60,116.87" fill="#00f"/>
<text transform="translate(179.9,119.60) scale(1.098,1)" font-size="20.2" font-family="Liberation Serif, Times New Roman, serif" font-weight="bold" stroke="#000" stroke-width="0.45">(FeCrAl)</text>
<line x1="124.6" y1="138.60" x2="173.3" y2="138.60" stroke="#f0f" stroke-width="3.2" stroke-linecap="round"/>
<polygon points="140.60,134.13 157.00,134.13 148.80,147.53" fill="#f0f"/>
<text transform="translate(179.9,146.00) scale(1.098,1)" font-size="20.2" font-family="Liberation Serif, Times New Roman, serif" font-weight="bold" stroke="#000" stroke-width="0.45">(SS-310)</text>
<text transform="translate(1.4,17.8) scale(1.159,1)" font-size="19" font-family="Liberation Serif, Times New Roman, serif" font-weight="bold" stroke="#000" stroke-width="0.45">Pu-239 atom density (atoms/bar*cm)</text>
<text transform="translate(306.6,501) scale(1.135,1)" font-size="19.5" font-family="Liberation Serif, Times New Roman, serif" font-weight="bold" stroke="#000" stroke-width="0.45">Radius (cm)</text>
</svg>
</body></html>
